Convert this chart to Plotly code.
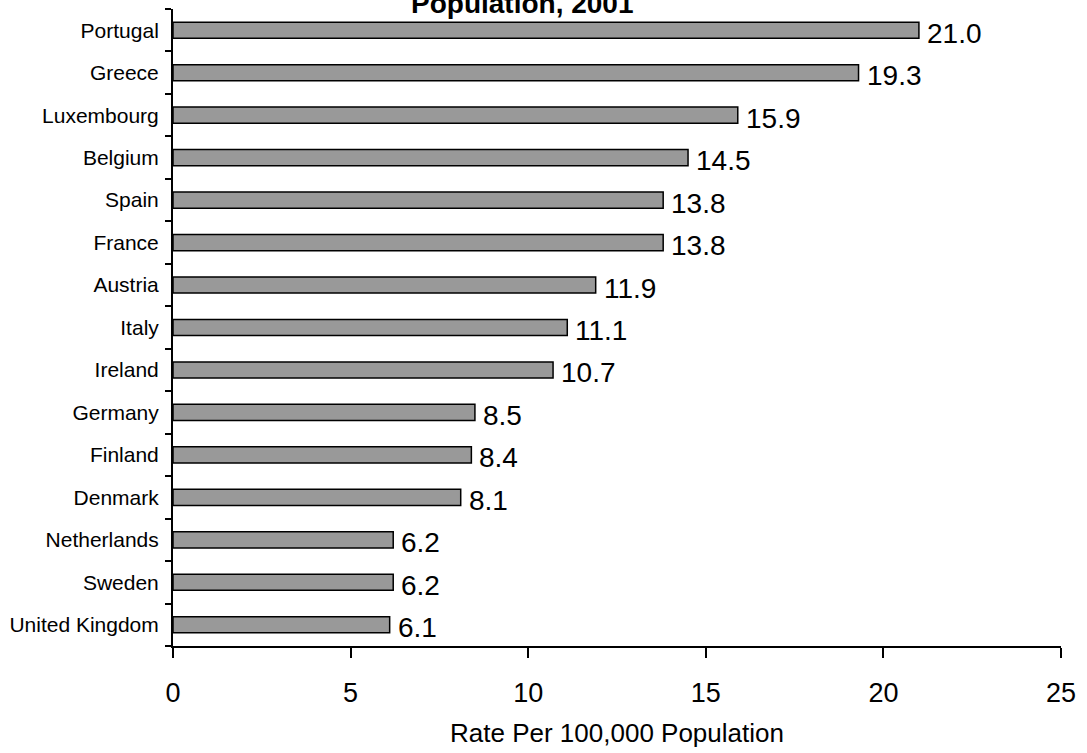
import plotly.graph_objects as go

# Rates per 100,000 population, 2001 (top to bottom as drawn)
countries = ["Portugal", "Greece", "Luxembourg", "Belgium", "Spain", "France",
             "Austria", "Italy", "Ireland", "Germany", "Finland", "Denmark",
             "Netherlands", "Sweden", "United Kingdom"]
rates = [21.0, 19.3, 15.9, 14.5, 13.8, 13.8, 11.9, 11.1, 10.7, 8.5, 8.4, 8.1,
         6.2, 6.2, 6.1]
x_ticks = [0, 5, 10, 15, 20, 25]

FONT = "Liberation Sans, Arial, sans-serif"

fig = go.Figure(
    go.Bar(
        x=rates,
        y=countries,
        orientation="h",
        width=0.38,
        marker=dict(color="#999999", line=dict(color="#000000", width=1.5)),
        hoverinfo="x+y",
    )
)

# Value labels placed just past the end of each bar
for c, v in zip(countries, rates):
    fig.add_annotation(
        x=v, y=c, xref="x", yref="y",
        text=f"{v:.1f}", showarrow=False,
        xanchor="left", yanchor="middle", xshift=6, yshift=-3,
        font=dict(family=FONT, size=28, color="#000000"),
    )

# Title (second line of a two-line heading)
fig.add_annotation(
    x=(522 - 173) / 888, y=1, xref="paper", yref="paper",
    xanchor="center", yanchor="middle", yshift=6,
    text="<b>Population, 2001</b>", showarrow=False,
    font=dict(family=FONT, size=28, color="#000000"),
)

fig.update_layout(
    width=1087, height=753,
    margin=dict(l=173, r=26, t=9, b=107),
    paper_bgcolor="#ffffff",
    plot_bgcolor="#ffffff",
    showlegend=False,
    font=dict(family=FONT, color="#000000"),
    xaxis=dict(
        range=[0, 25],
        tickvals=x_ticks,
        ticktext=[str(t) for t in x_ticks],
        showgrid=False, zeroline=False,
        showline=True, linecolor="#000000", linewidth=2,
        ticks="outside", ticklen=10, tickwidth=2, tickcolor="#000000",
        ticklabelstandoff=12,
        tickfont=dict(family=FONT, size=27),
        title=dict(text="Rate Per 100,000 Population",
                   font=dict(family=FONT, size=26), standoff=16),
    ),
    yaxis=dict(
        categoryorder="array",
        categoryarray=countries[::-1],
        autorange=False,
        range=[-0.5, len(countries) - 0.5],
        showgrid=False, zeroline=False,
        showline=True, linecolor="#000000", linewidth=2,
        ticks="outside", ticklen=6, tickwidth=2, tickcolor="#000000",
        tickson="boundaries",
        ticklabelstandoff=8,
        tickfont=dict(family=FONT, size=21),
    ),
)

fig.write_html("out.html")
